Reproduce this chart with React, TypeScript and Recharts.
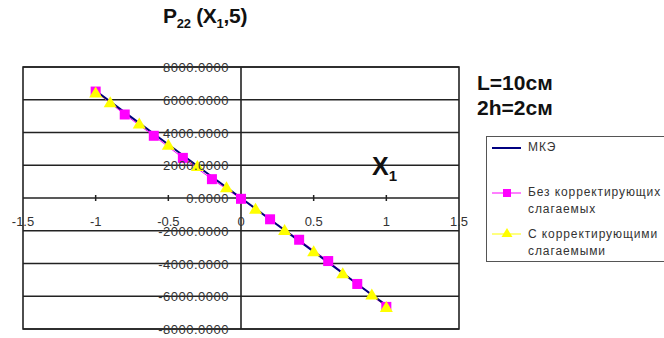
import {
  CartesianGrid,
  Legend,
  Line,
  LineChart,
  ReferenceArea,
  ReferenceLine,
  XAxis,
  YAxis,
} from 'recharts'

const xTicks = [-1.5, -1, -0.5, 0, 0.5, 1, 1.5]
const yTicks = [-8000, -6000, -4000, -2000, 0, 2000, 4000, 6000, 8000]

const mkeX = [-1, -0.8, -0.6, -0.4, -0.2, 0, 0.2, 0.4, 0.6, 0.8, 1]
const mkeY = [6550, 5230, 3920, 2610, 1300, 0, -1310, -2620, -3930, -5250, -6560]

const plainX = [-1, -0.8, -0.6, -0.4, -0.2, 0, 0.2, 0.4, 0.6, 0.8, 1]
const plainY = [6500, 5100, 3800, 2450, 1150, -50, -1300, -2550, -3850, -5250, -6650]

const corrX = [-1, -0.9, -0.7, -0.5, -0.3, -0.1, 0.1, 0.3, 0.5, 0.7, 0.9, 1]
const corrY = [6450, 5850, 4550, 3250, 1950, 650, -650, -1950, -3250, -4600, -5900, -6650]

const seriesNames = ['МКЭ', 'Без корректирующих слагаемых', 'С корректирующими слагаемыми']

const mkeData = mkeX.map((x, i) => ({ x, y: mkeY[i] }))
const plainData = plainX.map((x, i) => ({ x, y: plainY[i] }))
const corrData = corrX.map((x, i) => ({ x, y: corrY[i] }))

const W = 664
const H = 338
const M = { top: 67, right: 205, bottom: 8, left: 22 }
const PLOT_W = 436
const PLOT_H = 262
const FONT = 'Arial, "Liberation Sans", sans-serif'

function XTick({ x, y, payload }: any) {
  const y0 = y - PLOT_H / 2
  return (
    <g>
      {payload.value !== 0 && Math.abs(payload.value) !== 1.5 && (
        <line x1={x} x2={x} y1={y0 - 3} y2={y0 + 3} stroke="#222" strokeWidth={1.5} />
      )}
      <text
        x={x}
        y={y0 + 28}
        textAnchor="middle"
        fontSize={13}
        fontFamily={FONT}
        fill="#333"
      >
        {payload.value}
      </text>
    </g>
  )
}

function YTick({ x, y, payload }: any) {
  return (
    <text
      x={x + PLOT_W / 2 - 12}
      y={y + 5}
      textAnchor="end"
      fontSize={13}
      letterSpacing={0.5}
      fontFamily={FONT}
      fill="#333"
    >
      {payload.value.toFixed(4)}
    </text>
  )
}

function Square({ cx, cy }: any) {
  return <rect x={cx - 5} y={cy - 5} width={10} height={10} fill="#ff00ff" />
}

function Triangle({ cx, cy }: any) {
  return (
    <polygon
      points={`${cx},${cy - 6} ${cx + 6.5},${cy + 5} ${cx - 6.5},${cy + 5}`}
      fill="#ffff00"
    />
  )
}

function LegendBox() {
  const text = { position: 'absolute' as const, left: 41, fontSize: 12, letterSpacing: 0.9, color: '#333', lineHeight: '17px' }
  return (
    <div
      style={{
        position: 'relative',
        width: 200,
        height: 124,
        border: '1px solid #555',
        background: '#fff',
        fontFamily: FONT,
      }}
    >
      <svg width={36} height={124} style={{ position: 'absolute', left: 0, top: 0 }}>
        <line x1={5} x2={34} y1={11} y2={11} stroke="#000080" strokeWidth={2} />
        <line x1={5} x2={34} y1={56} y2={56} stroke="#ff00ff" strokeWidth={1} />
        <rect x={16} y={52} width={8} height={8} fill="#ff00ff" />
        <line x1={5} x2={34} y1={97} y2={97} stroke="#ffff00" strokeWidth={1} />
        <polygon points="20,91 25.5,100 14.5,100" fill="#ffff00" />
      </svg>
      <div style={{ ...text, top: 2 }}>{seriesNames[0]}</div>
      <div style={{ ...text, top: 47, width: 150 }}>{seriesNames[1]}</div>
      <div style={{ ...text, top: 89, width: 150 }}>{seriesNames[2]}</div>
    </div>
  )
}

export default function App() {
  return (
    <div
      style={{
        position: 'absolute',
        left: 0,
        top: 0,
        width: W,
        height: H,
        overflow: 'hidden',
        background: '#fff',
        fontFamily: FONT,
      }}
    >
      <div
        style={{
          position: 'absolute',
          left: 163,
          top: 4,
          fontSize: 21,
          fontWeight: 'bold',
          color: '#111',
          whiteSpace: 'nowrap',
          letterSpacing: -0.3,
        }}
      >
        P<sub style={{ fontSize: 13 }}>22</sub> (X<sub style={{ fontSize: 13 }}>1</sub>,5)
      </div>
      <div
        style={{
          position: 'absolute',
          left: 477,
          top: 70,
          fontSize: 21,
          fontWeight: 'bold',
          color: '#111',
          lineHeight: '25px',
        }}
      >
        L=10см
        <br />
        2h=2см
      </div>
      <div
        style={{
          position: 'absolute',
          left: 372,
          top: 152,
          fontSize: 25,
          fontWeight: 'bold',
          color: '#111',
          zIndex: 2,
        }}
      >
        X<sub style={{ fontSize: 15 }}>1</sub>
      </div>
      <LineChart width={W} height={H} margin={M}>
        <CartesianGrid vertical={false} stroke="#222" strokeWidth={1.6} />
        <XAxis
          type="number"
          dataKey="x"
          domain={[-1.5, 1.5]}
          ticks={xTicks}
          height={1}
          axisLine={false}
          tickLine={false}
          tickSize={0}
          tickMargin={0}
          tick={(p: any) => <XTick {...p} />}
          interval={0}
          allowDataOverflow
        />
        <YAxis
          type="number"
          dataKey="y"
          domain={[-8000, 8000]}
          ticks={yTicks}
          width={1}
          axisLine={false}
          tickLine={false}
          tickSize={0}
          tickMargin={0}
          tick={(p: any) => <YTick {...p} />}
          interval={0}
          allowDataOverflow
        />
        <ReferenceArea x1={-1.5} x2={1.5} y1={-8000} y2={8000} fill="none" stroke="#222" strokeWidth={1.6} />
        <ReferenceLine x={0} stroke="#222" strokeWidth={1.6} />
        <Line
          data={plainData}
          dataKey="y"
          name={seriesNames[1]}
          stroke="#ff00ff"
          strokeWidth={1}
          dot={<Square />}
          isAnimationActive={false}
        />
        <Line
          data={corrData}
          dataKey="y"
          name={seriesNames[2]}
          stroke="#ffff00"
          strokeWidth={1}
          dot={<Triangle />}
          isAnimationActive={false}
        />
        <Line
          data={mkeData}
          dataKey="y"
          name={seriesNames[0]}
          stroke="#000080"
          strokeWidth={2}
          dot={false}
          isAnimationActive={false}
        />
        <Legend
          layout="horizontal"
          verticalAlign="middle"
          align="center"
          content={<LegendBox />}
          wrapperStyle={{ left: 486, top: 136, width: 200 }}
        />
      </LineChart>
    </div>
  )
}
